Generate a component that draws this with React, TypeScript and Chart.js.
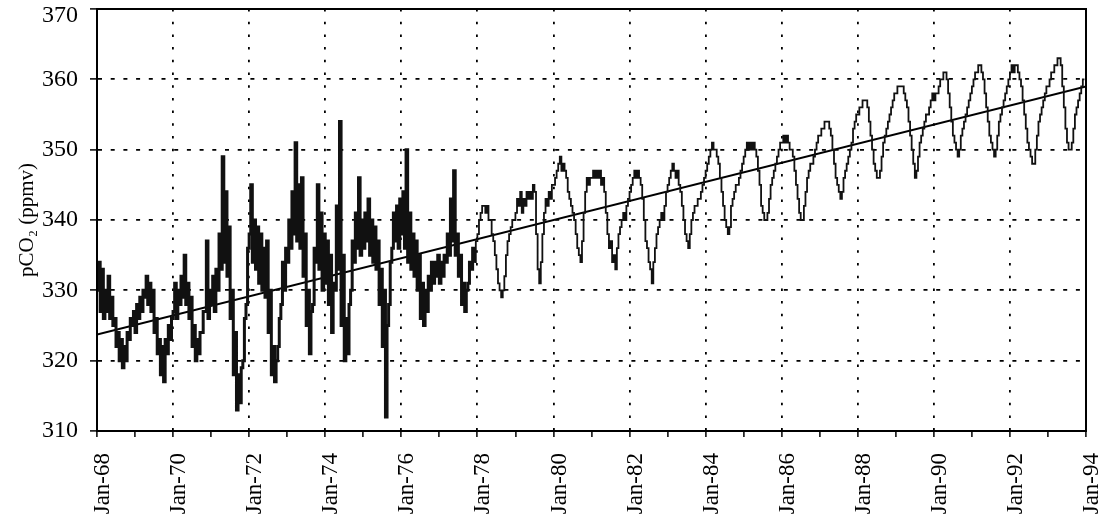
import React, { useEffect, useRef } from 'react';
import { Chart, registerables } from 'chart.js';

Chart.register(...registerables);

// pCO2 (ppmv) at half-monthly steps (24 values per year)
const SAMPLES_PER_YEAR = 24;
const pco2Years = [
  1968, 1969, 1970, 1971, 1972, 1973, 1974, 1975, 1976, 1977, 1978, 1979, 1980,
  1981, 1982, 1983, 1984, 1985, 1986, 1987, 1988, 1989, 1990, 1991, 1992, 1993,
];
const pco2Rows: number[][] = [
  [330, 334, 327, 333, 326, 330, 327, 332, 326, 329, 325, 326, 322, 324, 320, 323, 319, 322, 320, 324, 323, 326, 325, 327],
  [324, 328, 326, 329, 327, 330, 329, 332, 328, 331, 327, 330, 324, 326, 321, 323, 318, 322, 317, 323, 321, 325, 323, 326],
  [327, 331, 326, 330, 328, 332, 329, 335, 328, 331, 326, 329, 322, 325, 320, 323, 321, 324, 324, 327, 327, 337, 326, 330],
  [328, 332, 327, 333, 330, 338, 333, 349, 334, 344, 332, 339, 326, 330, 318, 324, 313, 318, 314, 319, 320, 326, 328, 336],
  [338, 345, 334, 340, 333, 339, 331, 338, 330, 336, 329, 337, 324, 330, 318, 322, 317, 320, 322, 326, 328, 334, 330, 336],
  [334, 340, 336, 344, 338, 351, 337, 345, 336, 346, 332, 338, 325, 330, 321, 327, 328, 336, 334, 345, 333, 341, 330, 338],
  [331, 337, 328, 335, 324, 331, 330, 342, 333, 354, 325, 335, 320, 326, 321, 328, 330, 337, 334, 341, 336, 346, 335, 340],
  [336, 341, 337, 343, 335, 340, 334, 339, 333, 337, 328, 333, 322, 330, 312, 325, 328, 334, 336, 341, 337, 342, 336, 343],
  [338, 344, 336, 350, 334, 341, 333, 338, 332, 337, 330, 335, 326, 331, 325, 330, 327, 332, 330, 334, 331, 334, 332, 335],
  [331, 334, 332, 335, 334, 338, 335, 343, 337, 347, 335, 338, 332, 335, 328, 331, 327, 330, 331, 334, 333, 336, 334, 337],
  [338, 340, 341, 342, 342, 341, 342, 340, 340, 338, 337, 335, 333, 331, 330, 329, 330, 332, 335, 337, 338, 339, 340, 340],
  [341, 343, 342, 344, 341, 343, 342, 344, 343, 344, 343, 345, 344, 338, 333, 331, 334, 338, 341, 343, 342, 344, 343, 345],
  [345, 346, 347, 348, 349, 347, 348, 347, 346, 344, 343, 342, 341, 340, 338, 336, 335, 334, 337, 341, 344, 346, 345, 346],
  [346, 347, 346, 347, 346, 347, 345, 346, 344, 341, 338, 336, 337, 334, 335, 333, 336, 338, 339, 340, 341, 340, 342, 343],
  [344, 345, 346, 347, 346, 347, 346, 345, 343, 340, 337, 336, 334, 333, 331, 334, 336, 338, 339, 340, 341, 340, 342, 344],
  [345, 346, 347, 348, 347, 346, 347, 345, 344, 342, 340, 338, 337, 336, 338, 340, 341, 342, 342, 343, 343, 344, 345, 346],
  [347, 348, 349, 350, 351, 350, 350, 349, 348, 346, 344, 342, 340, 339, 338, 339, 342, 343, 344, 345, 345, 346, 347, 348],
  [349, 350, 351, 350, 351, 350, 351, 350, 349, 347, 345, 342, 341, 340, 340, 341, 343, 345, 346, 347, 348, 349, 350, 351],
  [351, 352, 351, 352, 351, 350, 350, 349, 347, 345, 343, 341, 340, 340, 342, 344, 346, 347, 348, 348, 349, 350, 351, 352],
  [352, 353, 353, 354, 354, 354, 353, 352, 350, 348, 346, 345, 344, 343, 344, 346, 347, 348, 349, 350, 351, 353, 354, 355],
  [355, 356, 356, 357, 357, 357, 356, 354, 352, 350, 348, 347, 346, 346, 347, 349, 351, 352, 353, 354, 355, 356, 357, 358],
  [358, 359, 359, 359, 359, 358, 357, 356, 354, 352, 350, 348, 346, 347, 349, 351, 352, 353, 354, 355, 355, 356, 357, 358],
  [357, 358, 358, 359, 360, 360, 361, 361, 360, 358, 356, 354, 352, 351, 350, 349, 350, 352, 353, 354, 355, 356, 357, 358],
  [359, 360, 361, 361, 362, 362, 361, 360, 358, 356, 354, 352, 351, 350, 349, 350, 352, 354, 355, 356, 357, 358, 359, 360],
  [361, 362, 361, 362, 362, 361, 360, 359, 357, 355, 353, 351, 350, 349, 348, 348, 350, 352, 354, 355, 356, 357, 358, 359],
  [359, 360, 361, 361, 362, 362, 363, 363, 362, 359, 356, 353, 351, 350, 350, 351, 353, 355, 356, 357, 358, 359, 360, 360],
];

// Linear trend line end points
const trendYears = [1968, 1994];
const trendValues = [323.7, 359.0];

// Axis ticks
const xMin = 1968;
const xMax = 1994;
const xTickYears = [1968, 1970, 1972, 1974, 1976, 1978, 1980, 1982, 1984, 1986, 1988, 1990, 1992, 1994];
const xTickLabels = ['Jan-68', 'Jan-70', 'Jan-72', 'Jan-74', 'Jan-76', 'Jan-78', 'Jan-80', 'Jan-82', 'Jan-84', 'Jan-86', 'Jan-88', 'Jan-90', 'Jan-92', 'Jan-94'];
const yMin = 310;
const yMax = 370;
const yStep = 10;
const yTitle = 'pCO\u2082 (ppmv)';

const FONT = '"Liberation Serif", "Times New Roman", serif';
const CLEAR = 'rgba(0,0,0,0)';

export default function App() {
  const ref = useRef<HTMLCanvasElement>(null);

  useEffect(() => {
    if (!ref.current) return;
    const points: { x: number; y: number }[] = [];
    pco2Rows.forEach((row, r) => {
      row.forEach((v, i) => {
        points.push({ x: pco2Years[r] + i / SAMPLES_PER_YEAR, y: v });
      });
    });
    const trend = trendYears.map((x, i) => ({ x, y: trendValues[i] }));

    const frame = {
      id: 'frame',
      afterDatasetsDraw(chart: any) {
        const { ctx, chartArea } = chart;
        const { left, right, top, bottom } = chartArea;
        ctx.save();
        ctx.strokeStyle = '#000';
        ctx.lineWidth = 2;
        ctx.setLineDash([]);
        ctx.strokeRect(left, top, right - left, bottom - top);
        ctx.restore();
      },
      afterDraw(chart: any) {
        // top tick label sits slightly lower than its tick, as in the figure
        const y = chart.scales.y;
        const ctx = chart.ctx;
        ctx.save();
        ctx.fillStyle = '#000';
        ctx.font = `24px ${FONT}`;
        ctx.textAlign = 'right';
        ctx.textBaseline = 'middle';
        ctx.fillText(String(yMax), y.right - 7 - 12, y.getPixelForValue(yMax) + 7);
        ctx.restore();
      },
    };

    const chart = new Chart(ref.current, {
      type: 'line',
      data: {
        datasets: [
          {
            data: points,
            borderColor: '#111',
            borderWidth: 1.8,
            pointRadius: 0,
            stepped: true,
            fill: false,
            segment: {
              borderWidth: (c: any) => (c.p0.parsed.x < 1977.9 ? 3 : 1.8),
            },
          },
          {
            data: trend,
            borderColor: '#000',
            borderWidth: 2,
            pointRadius: 0,
            fill: false,
          },
        ],
      },
      options: {
        responsive: false,
        animation: false,
        devicePixelRatio: 1,
        layout: { padding: { top: 9, right: 21, left: 0, bottom: 0 } },
        plugins: { legend: { display: false }, tooltip: { enabled: false } },
        scales: {
          x: {
            type: 'linear',
            min: xMin,
            max: xMax,
            ticks: {
              stepSize: 1,
              autoSkip: false,
              maxRotation: 90,
              minRotation: 90,
              padding: 16,
              labelOffset: 6,
              color: '#000',
              font: { family: FONT, size: 23, lineHeight: 0.6 },
              callback: (v: any) => {
                const i = xTickYears.indexOf(Number(v));
                return i >= 0 ? xTickLabels[i] : '';
              },
            },
            grid: {
              color: (c: any) => {
                const v = c.tick ? c.tick.value : 0;
                return v % 2 === 0 && v !== xMin && v !== xMax ? '#000' : CLEAR;
              },
              lineWidth: 1.8,
              tickLength: 6,
              tickColor: '#000',
              tickWidth: 1.5,
            },
            border: { display: true, color: '#000', width: 2, dash: [2.5, 10.2] },
            afterFit: (s: any) => {
              s.height = 91;
              s.paddingLeft = 0;
              s.paddingRight = 0;
            },
          },
          y: {
            min: yMin,
            max: yMax,
            ticks: {
              stepSize: yStep,
              padding: 12,
              color: '#000',
              font: { family: FONT, size: 24, lineHeight: 0.8 },
              callback: (v: any) => (Number(v) === yMax ? '' : String(v)),
            },
            grid: {
              color: (c: any) => {
                const v = c.tick ? c.tick.value : 0;
                return v === yMin || v === yMax ? CLEAR : '#000';
              },
              lineWidth: 1.8,
              tickLength: 7,
              tickColor: '#000',
              tickWidth: 1.5,
            },
            border: { display: true, color: '#000', width: 2, dash: [4, 8.7] },
            title: {
              display: true,
              text: yTitle,
              color: '#000',
              font: { family: FONT, size: 21 },
              padding: { top: 15, bottom: 0 },
            },
            afterFit: (s: any) => {
              s.width = 97;
              s.paddingTop = 0;
              s.paddingBottom = 0;
            },
          },
        },
      },
      plugins: [frame],
    } as any);

    return () => chart.destroy();
  }, []);

  return (
    <div style={{ position: 'absolute', left: 0, top: 0, width: 1107, height: 522, background: '#fff' }}>
      <canvas ref={ref} width={1107} height={522} style={{ display: 'block', width: 1107, height: 522 }} />
    </div>
  );
}
